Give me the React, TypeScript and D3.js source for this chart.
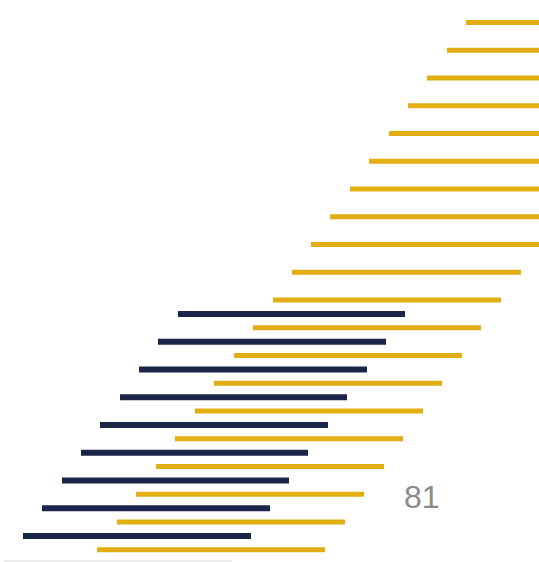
import React from "react";
import * as d3 from "d3";

const W = 539;
const H = 562;

// Yellow strokes: row index, start x, end x (end beyond 539 is clipped by the frame)
const yellowRows = [0, 1, 2, 3, 4, 5, 6, 7, 8, 9, 10, 11, 12, 13, 14, 15, 16, 17, 18, 19];
const yellowStarts = [466, 447, 427, 408, 389, 369, 350, 330, 311, 292, 273, 253, 234, 214, 195, 175, 156, 136, 117, 97];
const yellowEnds = [694, 675, 655, 636, 617, 597, 578, 558, 539, 521, 501, 481, 462, 442, 423, 403, 384, 364, 345, 325];

// Navy strokes: sit halfway between yellow rows
const navyRows = [10.5, 11.5, 12.5, 13.5, 14.5, 15.5, 16.5, 17.5, 18.5];
const navyStarts = [178, 158, 139, 120, 100, 81, 62, 42, 23];
const navyEnds = [405, 386, 367, 347, 328, 308, 289, 270, 251];

const pageLabel = "81";
const footerRule = [4, 232];

const YELLOW = "#E3AD14";
const NAVY = "#1B2549";

export default function App() {
  const x = d3.scaleLinear().domain([0, W]).range([0, W]);
  const y = d3.scaleLinear().domain([0, 19]).range([22.6, 549.8]);

  return (
    <svg
      width={W}
      height={H}
      viewBox={`0 0 ${W} ${H}`}
      style={{ position: "fixed", left: 0, top: 0, background: "#ffffff", display: "block" }}
    >
      <rect x={0} y={0} width={W} height={H} fill="#ffffff" />
      <g>
        {yellowRows.map((r, i) => (
          <line
            key={"y" + i}
            x1={x(yellowStarts[i])}
            x2={x(Math.min(yellowEnds[i], W))}
            y1={y(r)}
            y2={y(r)}
            stroke={YELLOW}
            strokeWidth={5}
          />
        ))}
      </g>
      <g>
        {navyRows.map((r, i) => (
          <line
            key={"n" + i}
            x1={x(navyStarts[i])}
            x2={x(navyEnds[i])}
            y1={y(r)}
            y2={y(r)}
            stroke={NAVY}
            strokeWidth={6}
          />
        ))}
      </g>
      <line
        x1={x(footerRule[0])}
        x2={x(footerRule[1])}
        y1={561}
        y2={561}
        stroke="#d9d9d9"
        strokeWidth={1}
      />
      <text
        x={x(404)}
        y={507.5}
        fontFamily="Liberation Sans, Arial, sans-serif"
        fontSize={32}
        fill="#8c8c8c"
      >
        {pageLabel}
      </text>
    </svg>
  );
}
